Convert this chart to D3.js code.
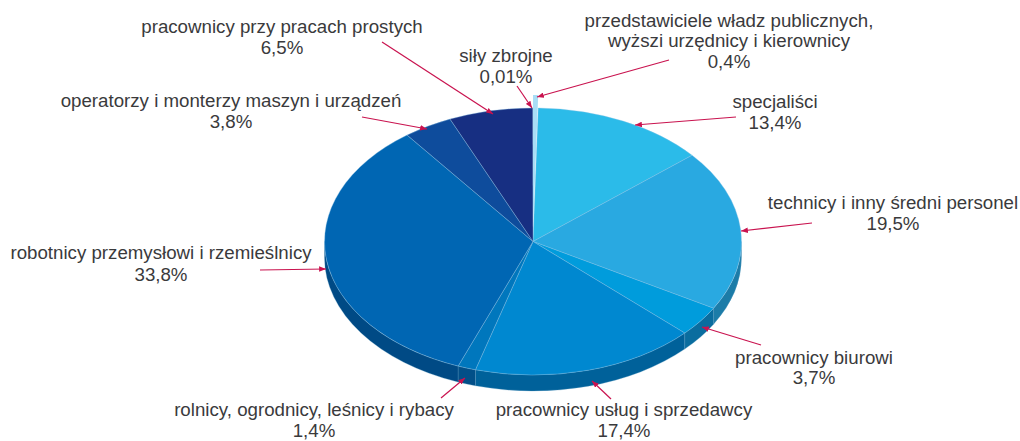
<!DOCTYPE html>
<html><head><meta charset="utf-8">
<script src="https://cdn.jsdelivr.net/npm/d3@7"></script>
<style>html,body{margin:0;padding:0;background:#fff}svg{display:block}text{font-family:"Liberation Sans",Arial,sans-serif;font-size:18.7px;fill:#3a3a3c;text-anchor:middle}</style>
</head><body><svg id="c" width="1020" height="441"></svg>
<script>
const categories=["przedstawiciele władz publicznych, wyższi urzędnicy i kierownicy","specjaliści","technicy i inny średni personel","pracownicy biurowi","pracownicy usług i sprzedawcy","rolnicy, ogrodnicy, leśnicy i rybacy","robotnicy przemysłowi i rzemieślnicy","operatorzy i monterzy maszyn i urządzeń","pracownicy przy pracach prostych","siły zbrojne"];
const values=[0.4,13.4,19.5,3.7,17.4,1.4,33.8,3.8,6.5,0.01];
const valueLabels=["0,4%","13,4%","19,5%","3,7%","17,4%","1,4%","33,8%","3,8%","6,5%","0,01%"];
const topColors=["#a9def6","#2bbbe9","#29a9e1","#009cdc","#0088d0","#0077bd","#0066b3","#0e4c9c","#172f82","#a9def6"];
const sideColors=["#7fb8d6","#1f88b5","#1c7ca8","#0a6d9f","#00619a","#024f88","#004a85","#0a3a78","#10235f","#7fb8d6"];
// annotation layout: label lines with centre x and baseline y, leader line from -> to
const layout=[
 {lines:[["przedstawiciele władz publicznych,",729,27],["wyższi urzędnicy i kierownicy",729,47],["0,4%",729,68]],from:[669,60],to:[537,97]},
 {lines:[["specjaliści",775,108],["13,4%",775,129]],from:[736,117],to:[635,125]},
 {lines:[["technicy i inny średni personel",893,209],["19,5%",893,230]],from:[812,223],to:[741,231]},
 {lines:[["pracownicy biurowi",814,364],["3,7%",814,384]],from:[761,345],to:[702,327]},
 {lines:[["pracownicy usług i sprzedawcy",624,416],["17,4%",624,437]],from:[611,399],to:[592,381]},
 {lines:[["rolnicy, ogrodnicy, leśnicy i rybacy",314,416],["1,4%",314,437]],from:[441,398],to:[465,378]},
 {lines:[["robotnicy przemysłowi i rzemieślnicy",161,259],["33,8%",161,281]],from:[260,270],to:[326,269]},
 {lines:[["operatorzy i monterzy maszyn i urządzeń",231,107],["3,8%",231,128]],from:[362,117],to:[427,129]},
 {lines:[["pracownicy przy pracach prostych",282,33],["6,5%",282,54]],from:[382,42],to:[493,114]},
 {lines:[["siły zbrojne",506,62],["0,01%",506,83]],from:[517,86],to:[532,108]}
];
const cx=533,cy=241.5,rx=208.5,ry=133.5,depth=16,lift=13,crimson="#c9134f";
const svg=d3.select("#c");
svg.append("defs").append("marker").attr("id","ah").attr("viewBox","0 0 10 8").attr("refX",10).attr("refY",4)
 .attr("markerWidth",7).attr("markerHeight",5.5).attr("markerUnits","userSpaceOnUse").attr("orient","auto")
 .append("path").attr("d","M0,0L10,4L0,8Z").attr("fill",crimson);
const pie=d3.pie().sort(null).value(d=>d).startAngle(0).endAngle(2*Math.PI);
const arcs=pie(values);
const pt=a=>[cx+rx*Math.sin(a),cy-ry*Math.cos(a)];
const sides=svg.append("g");
arcs.forEach((d,i)=>{
  const a0=Math.max(d.startAngle,Math.PI/2),a1=Math.min(d.endAngle,3*Math.PI/2);
  if(a1<=a0)return;
  const p0=pt(a0),p1=pt(a1);
  sides.append("path")
   .attr("d",`M${p0[0]},${p0[1]}A${rx},${ry} 0 0 1 ${p1[0]},${p1[1]}L${p1[0]},${p1[1]+depth}A${rx},${ry} 0 0 0 ${p0[0]},${p0[1]+depth}Z`)
   .attr("fill",sideColors[i]).attr("stroke","#5f9fc4").attr("stroke-width",0.3);
});
const arc=d3.arc().innerRadius(0).outerRadius(1);
const tops=svg.append("g");
arcs.forEach((d,i)=>{
  if(i===0||i===9)return;
  tops.append("path").attr("d",arc(d))
   .attr("transform",`translate(${cx},${cy}) scale(${rx},${ry})`)
   .attr("fill",topColors[i]).attr("stroke","#8cc4e6").attr("stroke-width",0.5).attr("stroke-opacity",.7)
   .attr("vector-effect","non-scaling-stroke");
});
tops.append("path").attr("d",arc(arcs[0]))
 .attr("transform",`translate(${cx},${cy-lift}) scale(${rx},${ry})`)
 .attr("fill",topColors[0]).attr("stroke","none");
const lab=svg.append("g");
layout.forEach(l=>{
  l.lines.forEach(t=>lab.append("text").attr("x",t[1]).attr("y",t[2]).text(t[0]));
  lab.append("line").attr("x1",l.from[0]).attr("y1",l.from[1]).attr("x2",l.to[0]).attr("y2",l.to[1])
   .attr("stroke",crimson).attr("stroke-width",1.2).attr("marker-end","url(#ah)");
});
</script></body></html>
